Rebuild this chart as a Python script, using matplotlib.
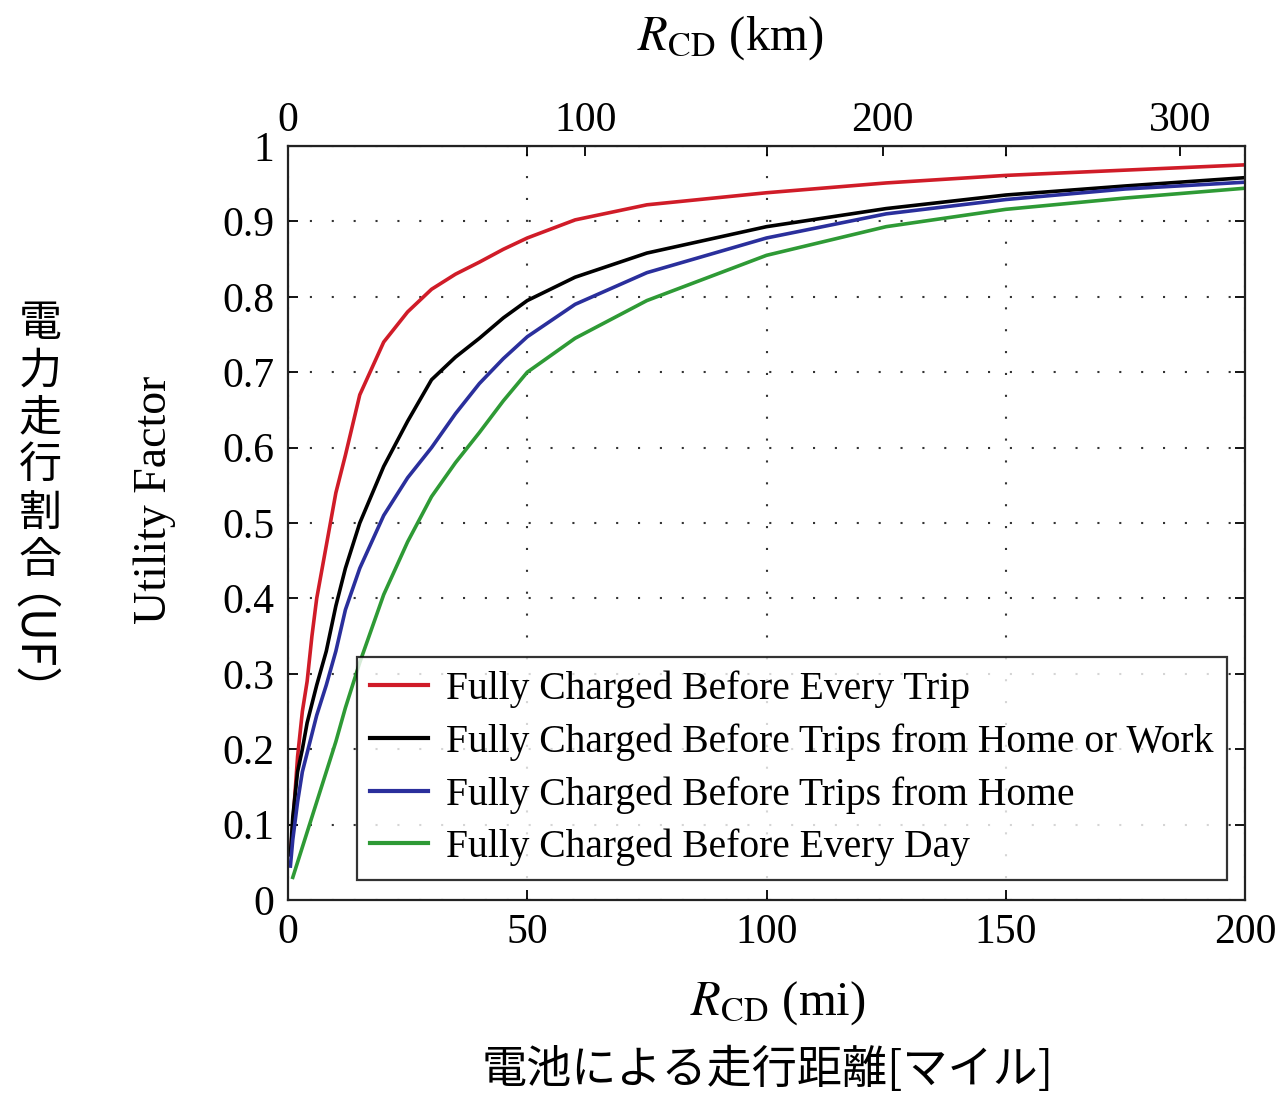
import numpy as np
import matplotlib
matplotlib.use("Agg")
import matplotlib.pyplot as plt

miles = [0.5, 1, 2, 3, 4, 5, 6, 8, 10, 12, 15, 20, 25, 30, 35, 40, 45, 50, 60, 75, 100, 125, 150, 175, 200]

uf_every_trip = [0.06, 0.10, 0.19, 0.25, 0.29, 0.35, 0.40, 0.47, 0.54, 0.59, 0.67, 0.74, 0.78, 0.81,
                 0.83, 0.846, 0.863, 0.878, 0.902, 0.922, 0.938, 0.951, 0.961, 0.968, 0.975]
uf_home_or_work = [0.06, 0.11, 0.17, 0.20, 0.235, 0.26, 0.285, 0.33, 0.39, 0.44, 0.50, 0.575, 0.635, 0.69,
                   0.72, 0.745, 0.772, 0.795, 0.826, 0.858, 0.893, 0.917, 0.935, 0.947, 0.958]
uf_home = [0.045, 0.08, 0.13, 0.17, 0.195, 0.22, 0.245, 0.285, 0.33, 0.385, 0.44, 0.51, 0.56, 0.60,
           0.645, 0.685, 0.718, 0.747, 0.79, 0.832, 0.878, 0.91, 0.929, 0.943, 0.952]
uf_every_day = [np.nan, 0.03, 0.05, 0.07, 0.09, 0.11, 0.13, 0.17, 0.21, 0.255, 0.315, 0.405, 0.475, 0.535,
                0.58, 0.62, 0.662, 0.70, 0.745, 0.795, 0.855, 0.893, 0.916, 0.931, 0.944]

labels = ["Fully Charged Before Every Trip",
          "Fully Charged Before Trips from Home or Work",
          "Fully Charged Before Trips from Home",
          "Fully Charged Before Every Day"]
colors = ["#d01c28", "#000000", "#2a2f9c", "#2e9a35"]

x_ticks_mi = [0, 50, 100, 150, 200]
x_ticks_km = [0, 100, 200, 300]
y_ticks = [0, 0.1, 0.2, 0.3, 0.4, 0.5, 0.6, 0.7, 0.8, 0.9, 1]
y_tick_labels = ["0", "0.1", "0.2", "0.3", "0.4", "0.5", "0.6", "0.7", "0.8", "0.9", "1"]

KM_PER_MI = 1.609344

plt.rcParams["font.family"] = ["Liberation Serif", "DejaVu Serif"]
plt.rcParams["mathtext.fontset"] = "stix"

W, H = 1278, 1095
fig = plt.figure(figsize=(W / 100, H / 100), dpi=100)
ax = fig.add_axes([288 / W, 1 - 900 / H, (1245 - 288) / W, (900 - 146) / H])

series = [uf_every_trip, uf_home_or_work, uf_home, uf_every_day]
for vals, lab, col in zip(series, labels, colors):
    ax.plot(miles, vals, color=col, lw=2.6, label=lab)

ax.set_xlim(0, 200)
ax.set_ylim(0, 1)
ax.set_xticks(x_ticks_mi)
ax.set_yticks(y_ticks)
ax.set_yticklabels(y_tick_labels)
ax.tick_params(direction="in", top=True, right=True, length=7, width=1.3,
               labelsize=30, pad=10)
ax.grid(True, color="#333333", lw=1.5, linestyle=(0, (1, 9.5)))
for s in ax.spines.values():
    s.set_linewidth(1.6)
    s.set_color("#222222")

# top axis in km
secax = ax.secondary_xaxis("top", functions=(lambda m: m * KM_PER_MI, lambda k: k / KM_PER_MI))
secax.set_xticks(x_ticks_km)
secax.tick_params(direction="in", length=7, width=1.3, labelsize=30, pad=4)

# axis titles placed to match the original layout
fig.text(730 / W, 1 - 38 / H, r"$R_{\mathrm{CD}}$ (km)", fontsize=35, ha="center", va="center")
fig.text(778 / W, 1 - 1003 / H, r"$R_{\mathrm{CD}}$ (mi)", fontsize=35, ha="center", va="center")
fig.text(155 / W, 1 - 500 / H, "Utility Factor", fontsize=33, rotation=90,
         ha="center", va="center")

leg = ax.legend(loc="lower right", bbox_to_anchor=((1227 - 288) / 957, (900 - 880) / 754),
                fontsize=28.5, frameon=True, fancybox=False, edgecolor="black",
                handlelength=1.45, handletextpad=0.45, labelspacing=0.38,
                borderpad=0.35, borderaxespad=0)
leg.get_frame().set_linewidth(1.6)
for h in leg.get_lines():
    h.set_linewidth(3.0)

# Japanese labels
jp = ["Noto Sans CJK JP", "DejaVu Sans"]
fig.text(768 / W, 1 - 1070 / H, "電池による走行距離[マイル]", family=jp, fontsize=32.5,
         ha="center", va="center")
for i, ch in enumerate("電力走行割合"):
    fig.text(40 / W, 1 - (324 + i * 47.4) / H, ch, family=jp, fontsize=31,
             ha="center", va="center")
# rotated part of the vertical label; anchor shifted to offset the CJK font metrics
fig.text(3 / W, 1 - 668 / H, "（UF）", family=jp, fontsize=33, rotation=270,
         rotation_mode="anchor", ha="center", va="center")

fig.savefig("out.png", dpi=100, facecolor="white")
